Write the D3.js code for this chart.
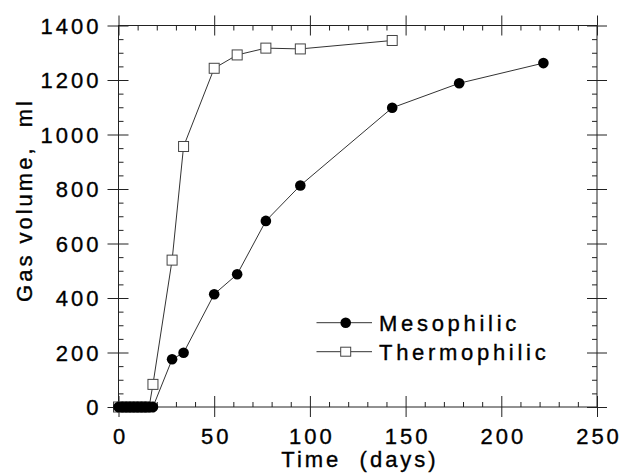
<!DOCTYPE html>
<html>
<head>
<meta charset="utf-8">
<script src="https://cdn.jsdelivr.net/npm/d3@7"></script>
<style>
  body { margin: 0; background: #fff; }
  svg text { font-family: "Liberation Sans", Arial, sans-serif; fill: #000; stroke: #000; stroke-width: 0.35; }
</style>
</head>
<body>
<svg id="chart" width="622" height="473"></svg>
<script>
// data
var mesoDays = [0, 2, 4, 6, 8, 10, 12, 14, 16, 18, 28, 34, 50, 62, 77, 95, 143, 178, 222];
var mesoVol = [0, 0, 0, 0, 0, 0, 0, 0, 0, 0, 175, 199, 414, 487, 683, 813, 1098, 1188, 1262];
var thermoDays = [0, 2, 4, 6, 8, 10, 12, 14, 16, 18, 28, 34, 50, 62, 77, 95, 143];
var thermoVol = [0, 0, 0, 0, 0, 0, 0, 0, 0, 83, 539, 956, 1243, 1292, 1317, 1314, 1345];
var xTicks = [0, 50, 100, 150, 200, 250];
var yTicks = [0, 200, 400, 600, 800, 1000, 1200, 1400];
var seriesNames = ["Mesophilic", "Thermophilic"];

var svg = d3.select("#chart");
var plotL = 118.5, plotR = 597, plotT = 25.5, plotB = 407;
var fs = 22, ls = 3;

var x = d3.scaleLinear().domain([0, 250]).range([plotL, plotR]);
var y = d3.scaleLinear().domain([0, 1400]).range([plotB, plotT]);

var xMinor = d3.range(0, 251, 10).filter(function(d) { return d % 50 != 0; });
var yMinor = d3.range(0, 1401, 50).filter(function(d) { return d % 200 != 0; });

// frame
svg.append("rect")
  .attr("x", plotL).attr("y", plotT)
  .attr("width", plotR - plotL).attr("height", plotB - plotT)
  .attr("fill", "none").attr("stroke", "#222").attr("stroke-width", 1);

function tickStyle(g) {
  g.select(".domain").remove();
  g.selectAll("line").attr("stroke", "#222").attr("stroke-width", 1);
}

// bottom axis: labels + crossing major ticks + inward minor ticks
var gb = svg.append("g").attr("transform", "translate(0," + plotB + ")")
  .call(d3.axisBottom(x).tickValues(xTicks).tickSize(10).tickPadding(11).tickFormat(d3.format("d")))
  .call(tickStyle);
gb.selectAll("text").attr("font-size", fs).attr("letter-spacing", ls).attr("dx", ls / 2);
svg.append("g").attr("transform", "translate(0," + plotB + ")")
  .call(d3.axisBottom(x).tickValues(xTicks).tickSize(-11).tickFormat(""))
  .call(tickStyle);
svg.append("g").attr("transform", "translate(0," + plotB + ")")
  .call(d3.axisBottom(x).tickValues(xMinor).tickSize(-5).tickFormat(""))
  .call(tickStyle);

// top axis
svg.append("g").attr("transform", "translate(0," + plotT + ")")
  .call(d3.axisTop(x).tickValues(xTicks).tickSize(10).tickFormat(""))
  .call(tickStyle);
svg.append("g").attr("transform", "translate(0," + plotT + ")")
  .call(d3.axisTop(x).tickValues(xTicks).tickSize(-10).tickFormat(""))
  .call(tickStyle);
svg.append("g").attr("transform", "translate(0," + plotT + ")")
  .call(d3.axisTop(x).tickValues(xMinor).tickSize(-5).tickFormat(""))
  .call(tickStyle);

// left axis
var gl = svg.append("g").attr("transform", "translate(" + plotL + ",0)")
  .call(d3.axisLeft(y).tickValues(yTicks).tickSize(11).tickPadding(5).tickFormat(d3.format("d")))
  .call(tickStyle);
gl.selectAll("text").attr("font-size", fs).attr("letter-spacing", ls).attr("dy", "0.36em").attr("dx", -1);
svg.append("g").attr("transform", "translate(" + plotL + ",0)")
  .call(d3.axisLeft(y).tickValues(yTicks).tickSize(-10).tickFormat(""))
  .call(tickStyle);
svg.append("g").attr("transform", "translate(" + plotL + ",0)")
  .call(d3.axisLeft(y).tickValues(yMinor).tickSize(-5).tickFormat(""))
  .call(tickStyle);

// right axis
svg.append("g").attr("transform", "translate(" + plotR + ",0)")
  .call(d3.axisRight(y).tickValues(yTicks).tickSize(10).tickFormat(""))
  .call(tickStyle);
svg.append("g").attr("transform", "translate(" + plotR + ",0)")
  .call(d3.axisRight(y).tickValues(yTicks).tickSize(-10).tickFormat(""))
  .call(tickStyle);
svg.append("g").attr("transform", "translate(" + plotR + ",0)")
  .call(d3.axisRight(y).tickValues(yMinor).tickSize(-5).tickFormat(""))
  .call(tickStyle);

// axis titles
svg.append("text")
  .attr("x", 360).attr("y", 467)
  .attr("text-anchor", "middle").attr("font-size", fs).attr("letter-spacing", ls)
  .style("white-space", "pre")
  .text("Time  (days)");
svg.append("text")
  .attr("transform", "translate(32,200) rotate(-90)")
  .attr("text-anchor", "middle").attr("font-size", fs).attr("letter-spacing", ls)
  .style("white-space", "pre")
  .text("Gas volume,  ml");

var line = d3.line().x(function(d) { return x(d[0]); }).y(function(d) { return y(d[1]); });
var meso = d3.zip(mesoDays, mesoVol);
var thermo = d3.zip(thermoDays, thermoVol);

// thermophilic series
svg.append("path").datum(thermo).attr("d", line)
  .attr("fill", "none").attr("stroke", "#333").attr("stroke-width", 1);
svg.selectAll(".sq").data(thermo).enter().append("rect")
  .attr("class", "sq")
  .attr("x", function(d) { return x(d[0]) - 5; })
  .attr("y", function(d) { return y(d[1]) - 5; })
  .attr("width", 10).attr("height", 10)
  .attr("fill", "#fff").attr("stroke", "#444").attr("stroke-width", 1);

// mesophilic series
svg.append("path").datum(meso).attr("d", line)
  .attr("fill", "none").attr("stroke", "#333").attr("stroke-width", 1);
svg.selectAll(".dot").data(meso).enter().append("circle")
  .attr("class", "dot")
  .attr("cx", function(d) { return x(d[0]); })
  .attr("cy", function(d) { return y(d[1]); })
  .attr("r", 5.3).attr("fill", "#000");

// legend
var lg = svg.append("g");
var legY = [322.7, 351.7];
seriesNames.forEach(function(name, i) {
  lg.append("line")
    .attr("x1", 316.5).attr("x2", 372).attr("y1", legY[i]).attr("y2", legY[i])
    .attr("stroke", "#333").attr("stroke-width", 1);
  if (i == 0) {
    lg.append("circle").attr("cx", 345.7).attr("cy", legY[i]).attr("r", 5.3).attr("fill", "#000");
  } else {
    lg.append("rect").attr("x", 340.7).attr("y", legY[i] - 4.5).attr("width", 10).attr("height", 9)
      .attr("fill", "#fff").attr("stroke", "#444");
  }
  lg.append("text")
    .attr("x", 379).attr("y", legY[i] + 8)
    .attr("font-size", fs).attr("letter-spacing", 3.7)
    .text(name);
});
</script>
</body>
</html>
